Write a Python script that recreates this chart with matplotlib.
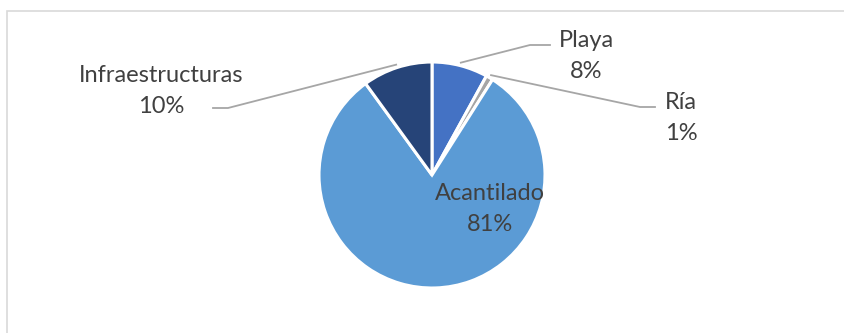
import numpy as np
import matplotlib.pyplot as plt
from matplotlib.patches import Rectangle

labels = ['Playa', 'Ría', 'Acantilado', 'Infraestructuras']
values = [8, 1, 81, 10]
colors = ['#4472C4', '#A5A5A5', '#5B9BD5', '#264478']

plt.rcParams['font.family'] = ['Lato', 'DejaVu Sans']

W, H = 845, 333
fig = plt.figure(figsize=(W / 100, H / 100), dpi=100)
ax = fig.add_axes([0, 0, 1, 1])
ax.set_xlim(0, W)
ax.set_ylim(0, H)
ax.axis('off')

# chart area border
ax.add_patch(Rectangle((7, -10), W, H - 11 + 10, fill=False, edgecolor='#D9D9D9', lw=1.2))

cx, cy, r = 432, H - 175, 113
wedges, _ = ax.pie(values, colors=colors, startangle=90, counterclock=False,
                   center=(cx, cy), radius=r,
                   wedgeprops=dict(edgecolor='white', linewidth=2.2))
ax.set_xlim(0, W)
ax.set_ylim(0, H)
ax.set_aspect('auto')

txt_color = '#404040'
fs = 17

# label positions (pixel coords, top-down) and leader elbow points
label_pos = {
    'Playa': (586, 56),
    'Ría': (681, 118),
    'Acantilado': (490, 209),
    'Infraestructuras': (161, 91),
}
elbow = {
    'Playa': [(530, 45), (550, 45)],
    'Ría': [(640, 107), (655, 107)],
    'Infraestructuras': [(228, 108), (213, 108)],
}

for w, lab, v in zip(wedges, labels, values):
    x, y = label_pos[lab]
    ax.text(x, H - y, f'{lab}\n{v}%', ha='center', va='center', fontsize=fs,
            color=txt_color, linespacing=1.55)
    if lab in elbow:
        mid = np.deg2rad((w.theta1 + w.theta2) / 2)
        sx, sy = cx + (r + 3) * np.cos(mid), cy + (r + 3) * np.sin(mid)
        pts = [(sx, sy)] + [(px, H - py) for px, py in elbow[lab]]
        xs, ys = zip(*pts)
        ax.plot(xs, ys, color='#A6A6A6', lw=1.3)

fig.savefig('out.png', dpi=100)
